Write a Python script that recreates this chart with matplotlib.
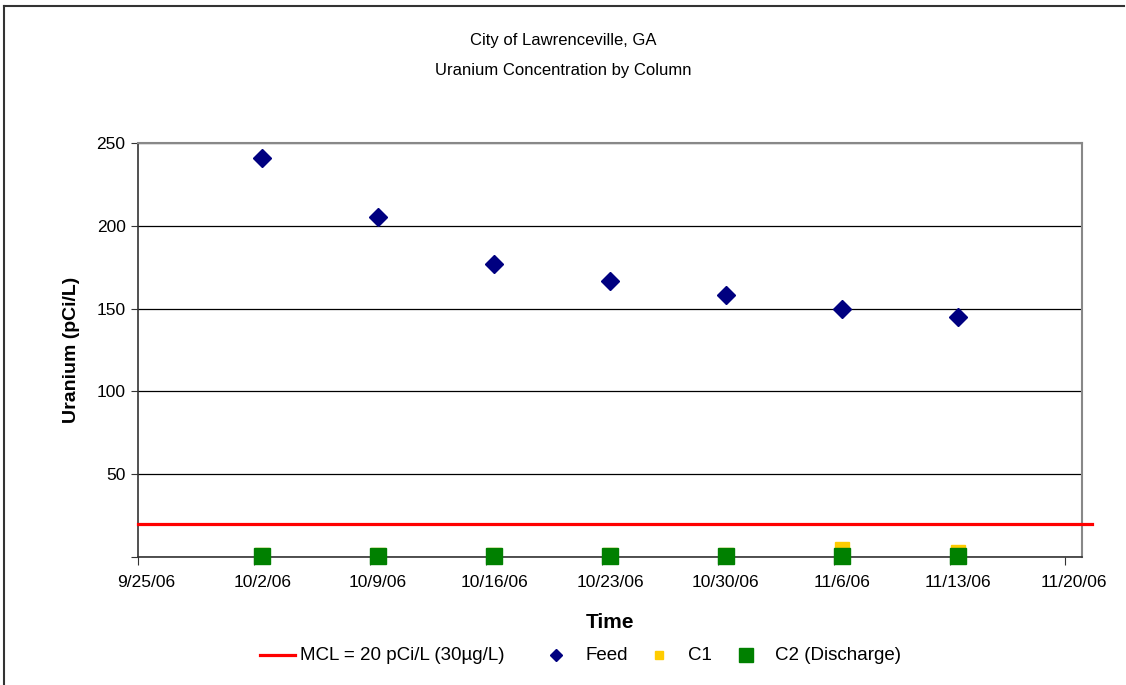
import numpy as np
import pandas as pd
import matplotlib
matplotlib.use('Agg')
import matplotlib.pyplot as plt
from matplotlib.lines import Line2D

plt.rcParams['font.family'] = ['Liberation Sans', 'DejaVu Sans']

# sample dates (taken around midday)
sample_dates = pd.to_datetime(['2006-10-02 12:00', '2006-10-09 12:00', '2006-10-16 12:00',
                               '2006-10-23 12:00', '2006-10-30 12:00', '2006-11-06 12:00',
                               '2006-11-13 12:00'])
feed = [241, 205.5, 177, 166.5, 158, 150, 145]
c1 = [1, 1, 1, 1, 1, 5, 3]
c2 = [0.7, 0.7, 0.7, 0.7, 0.7, 0.7, 0.7]

mcl_dates = pd.to_datetime(['2006-09-25 00:00', '2006-11-21 14:00'])
mcl = [20, 20]

tick_dates = pd.date_range('2006-09-25', '2006-11-20', freq='7D')
tick_labels = ['9/25/06', '10/2/06', '10/9/06', '10/16/06', '10/23/06', '10/30/06', '11/6/06', '11/13/06', '11/20/06']
y_ticks = [0, 50, 100, 150, 200, 250]
y_labels = ['', '50', '100', '150', '200', '250']

W, H = 1126, 685
fig = plt.figure(figsize=(W / 100, H / 100), dpi=100)
ax = fig.add_axes([138/W, 1 - 557/H, (1082 - 138)/W, (557 - 143)/H])

ax.plot(mcl_dates, mcl, color='#FF0000', lw=2.3, clip_on=False, zorder=3)
ax.plot(sample_dates, feed, 'D', color='#000080', ms=9.5, ls='none', zorder=4)
ax.plot(sample_dates, c1, 's', color='#FFCC00', ms=10, ls='none', clip_on=False, zorder=4)
ax.plot(sample_dates, c2, 's', color='#008000', ms=12, ls='none', clip_on=False, zorder=5)

ax.set_xlim(pd.Timestamp('2006-09-25'), pd.Timestamp('2006-11-21'))
ax.set_ylim(0, 250)

# tick marks at midnight, labels a bit to the right (as Excel draws them)
ax.set_xticks(tick_dates)
ax.set_xticklabels([])
ax.set_xticks(tick_dates + pd.Timedelta(hours=12), minor=True)
ax.set_xticklabels(tick_labels, minor=True, fontsize=12.5)
ax.tick_params(axis='x', which='minor', length=0, pad=13)
ax.tick_params(axis='x', which='major', direction='out', length=6, color='#333333')

ax.set_yticks(y_ticks)
ax.set_yticklabels(y_labels, fontsize=12.5)
ax.tick_params(axis='y', direction='out', length=5, color='#333333', pad=4)

ax.yaxis.grid(True, color='black', lw=0.9)
ax.set_axisbelow(True)

for s in ['top', 'right']:
    ax.spines[s].set_color('#888888')
    ax.spines[s].set_linewidth(1.5)
for s in ['left', 'bottom']:
    ax.spines[s].set_color('#333333')
    ax.spines[s].set_linewidth(1.2)

ax.set_ylabel('Uranium (pCi/L)', fontsize=14, fontweight='bold', labelpad=12)
fig.text(610/W, 1 - 623/H, 'Time', ha='center', va='center', fontsize=15, fontweight='bold')

fig.text(0.5, 1 - 40/H, 'City of Lawrenceville, GA', ha='center', va='center', fontsize=12)
fig.text(0.5, 1 - 71/H, 'Uranium Concentration by Column', ha='center', va='center', fontsize=12)

# legend drawn entry by entry to match the Excel spacing
leg_y = 1 - 655/H
fig.add_artist(Line2D([260/W, 295/W], [leg_y, leg_y], color='#FF0000', lw=2.3))
fig.add_artist(Line2D([556/W], [leg_y], marker='D', color='#000080', ms=6.5, ls='none'))
fig.add_artist(Line2D([659/W], [leg_y], marker='s', color='#FFCC00', ms=6, ls='none'))
fig.add_artist(Line2D([746/W], [leg_y], marker='s', color='#008000', ms=10, ls='none'))
legend_labels = ['MCL = 20 pCi/L (30µg/L)', 'Feed', 'C1', 'C2 (Discharge)']
legend_text_x = [300, 585, 688, 775]
for lbl, tx in zip(legend_labels, legend_text_x):
    fig.text(tx/W, leg_y, lbl, ha='left', va='center', fontsize=13.5)

# outer chart frame (only left and top edges visible)
fig.add_artist(Line2D([4/W, 4/W], [0, 1 - 6/H], color='#333333', lw=1.5))
fig.add_artist(Line2D([4/W, 1124/W], [1 - 6/H, 1 - 6/H], color='#333333', lw=1.5))

fig.savefig('out.png', dpi=100)
